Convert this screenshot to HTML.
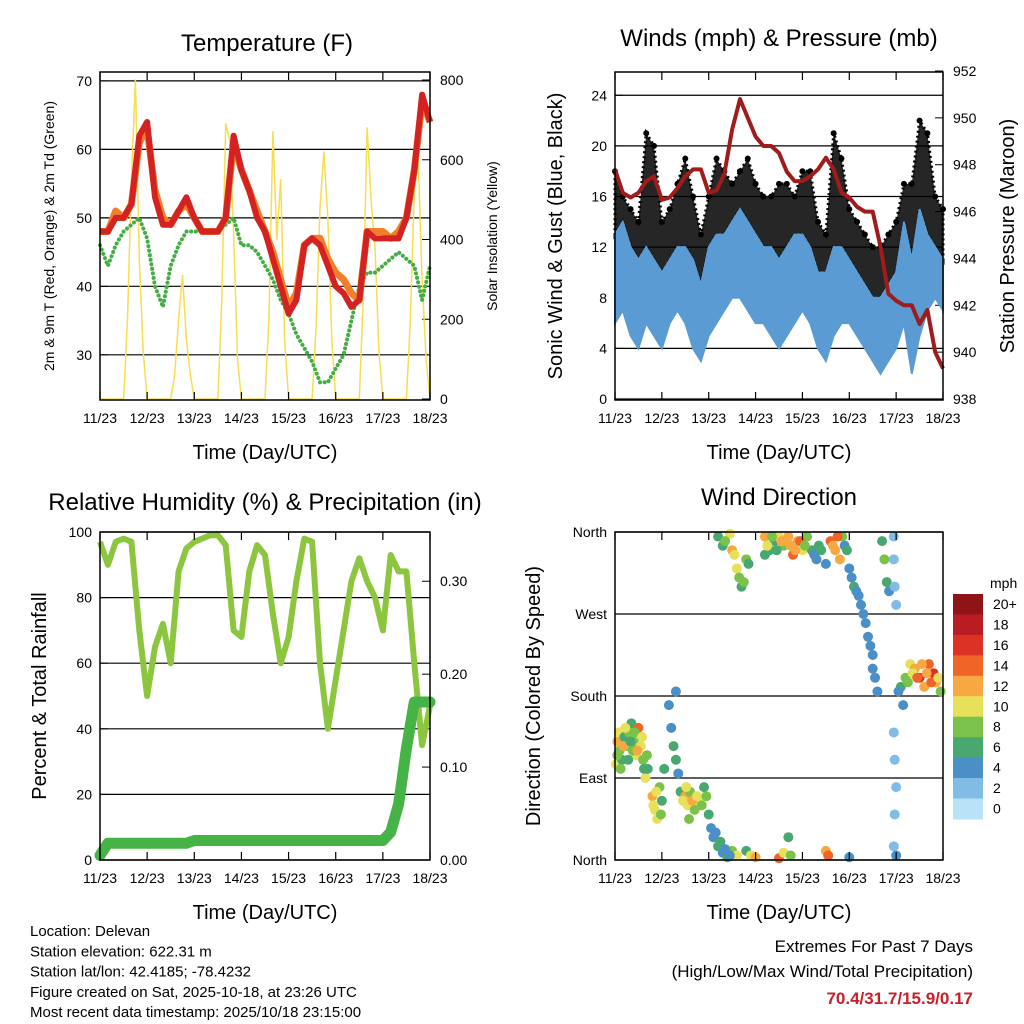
<!DOCTYPE html>
<html><head><meta charset="utf-8"><style>
html,body{margin:0;padding:0;background:#fff;}
svg{display:block;font-family:"Liberation Sans",sans-serif;}
</style></head><body>
<svg id="c" width="1024" height="1024" viewBox="0 0 1024 1024">
<g id="g"></g>
</svg>
<script>
// ---- data ----
const dayLabels=["11/23","12/23","13/23","14/23","15/23","16/23","17/23","18/23"];
const temp2m=[48,48,50,50,52,62,64,53,49,49,51,53,50,48,48,48,50,62,57,54,50,48,44,40,36,38,46,47,46,43,40,39,37,38,48,47,47,47,47,50,57,68,64];
const temp9m=[48,48,51,50,52,61,63,54,50,49,51,52,50,48,48,48,50,61,57,54,51,48,45,41,37,39,46,47,47,44,42,41,39,38,48,48,48,47,48,50,57,67,64];
const dewpt=[46,43,46,48,49,50,47,40,37,43,46,48,48,48,48,48,49,50,46,46,45,43,41,38,36,33,31,29,26,26,28,30,35,40,42,42,43,44,45,44,43,38,43];
const solar=[0,0,0,0,0,0,0,200,550,800,350,120,0,0,0,0,0,0,0,60,200,310,150,60,0,0,0,0,0,0,0,250,690,650,420,100,0,0,0,0,0,0,0,200,670,400,550,150,0,0,0,0,0,0,0,180,480,620,450,150,0,0,0,0,0,0,0,250,680,500,380,120,0,0,0,0,0,0,0,200,520,600,300,100,0];
const pressure=[947.8,946.8,946.6,946.8,947.3,947.5,946.5,946.6,947,947.5,947.8,947.8,946.8,946.9,947.6,949.5,950.8,950,949.2,948.8,948.8,948.5,947.7,947.3,947.3,947.5,947.8,948.3,947.8,946.8,946.6,946.2,946,946,944.5,942.5,942.2,942,942,941.2,941.8,940,939.3];
const windLo=[6,7,5,4,6,5,4,6,7,6,4,3,5,6,7,8,8,7,6,6,5,4,5,6,7,6,4,3,5,6,6,5,4,3,2,3,4,6,2,5,7,8,7];
const windHi=[13,14,12,11,12,11,10,11,12,12,11,9,12,13,13,14,15,14,13,12,12,11,12,13,13,12,10,10,12,12,11,10,9,8,8,9,10,14,11,15,13,12,11];
const gustHi=[18,16,15,14,21,20,14,15,17,19,16,13,16,19,18,17,18,19,17,16,16,17,17,16,18,18,14,13,21,19,15,14,13,12,12,13,14,17,17,22,21,16,15];
const rh=[97,90,97,98,97,70,50,65,72,60,88,95,97,98,99,99,96,70,68,88,96,93,75,60,68,85,98,97,60,40,55,70,85,92,85,80,70,93,88,88,60,35,47];
const precip=[0.005,0.018,0.018,0.018,0.018,0.018,0.018,0.018,0.018,0.018,0.018,0.018,0.021,0.021,0.021,0.021,0.021,0.021,0.021,0.021,0.021,0.021,0.021,0.021,0.021,0.021,0.021,0.021,0.021,0.021,0.021,0.021,0.021,0.021,0.021,0.021,0.021,0.03,0.06,0.12,0.17,0.17,0.17];
const dirTimes=[0.02,0.05,0.08,0.1,0.15,0.2,0.25,0.3,0.35,0.4,0.45,0.5,0.55,0.6,0.65,0.7,0.8,0.85,0.9,0.95,1.0,1.05,1.15,1.2,1.25,1.3,1.35,1.4,1.3,1.5,1.55,1.6,1.7,1.8,1.9,2.0,2.05,2.1,2.2,2.3,2.4,2.5,2.6,2.2,2.3,2.45,2.5,2.6,2.7,2.75,2.8,3.2,3.3,3.4,3.5,3.6,3.2,3.65,3.75,3.8,3.9,4.0,4.1,4.2,4.3,4.35,4.5,4.6,4.7,4.8,4.85,4.9,5.05,5.1,5.2,5.3,5.4,5.5,5.55,5.6,5.7,5.75,5.8,5.85,5.95,5.95,5.97,6.0,5.95,5.97,6.0,5.97,5.95,6.0,6.1,6.15,6.2,6.3,6.4,6.5,6.6,6.7,6.8,6.85,6.95,2.8,2.9,3.0,3.5,3.6,3.7,3.75,4.5,4.55,5.0,
0.05,0.12,0.18,0.22,0.28,0.33,0.38,0.42,0.48,0.58,0.62,0.68,0.82,0.88,0.98,1.45,1.52,1.58,1.65,1.75,1.85,1.95,2.15,2.25,2.35,2.45,2.35,2.55,2.65,2.85,3.25,3.35,3.45,3.55,3.7,3.85,3.95,4.05,4.25,4.4,4.65,4.75,4.95,5.0,5.15,5.25,5.35,5.45,5.5,6.05,6.25,6.35,6.45,6.55,6.65,6.75,6.9];
const dirDegs=[105,130,140,120,110,135,125,140,150,130,115,145,125,110,90,100,70,55,45,80,65,100,170,145,125,110,95,75,185,70,60,75,55,65,80,50,35,25,15,8,3,10,5,355,345,358,340,320,300,305,330,355,340,350,355,345,335,350,345,335,350,340,355,340,330,345,325,350,340,330,355,345,310,300,290,270,245,225,200,185,350,330,305,295,355,330,300,280,140,110,80,50,15,5,190,170,200,215,210,200,190,215,205,195,185,10,5,3,2,8,25,5,10,5,3,
115,100,125,145,110,130,120,140,120,135,100,115,60,75,50,65,80,45,65,70,60,70,30,20,12,5,350,335,310,325,345,355,340,350,355,340,350,345,335,340,345,355,340,320,295,280,260,235,210,185,195,205,200,215,205,195,200];
const dirSpeeds=[10,12,11,8,7,6,8,9,7,8,10,14,11,9,10,6,12,10,11,8,7,6,4,5,6,7,4,6,4,12,10,9,8,10,7,6,5,4,6,5,6,9,10,6,7,10,12,10,6,8,9,12,7,6,10,8,6,12,13,14,12,10,8,6,5,7,4,14,13,12,8,5,5,6,4,4,4,4,4,4,7,8,6,4,2,2,3,3,2,2,2,2,3,4,6,4,8,10,12,16,13,14,16,12,8,7,10,12,14,10,6,9,12,14,4,
9,8,12,10,7,6,9,8,13,10,7,8,10,11,9,10,11,9,12,10,9,8,4,6,5,4,8,10,9,7,10,8,7,12,13,12,14,9,5,6,13,15,7,4,5,4,4,4,4,5,8,11,14,13,12,15,10];
const speedColors=["#b8e2f8","#80bce6","#4a8fc6","#48a870","#7ac24a","#e6e05a","#f7a843","#f06428","#dc3226","#b91c22","#8e1418"];
const speedLabels=["0","2","4","6","8","10","12","14","16","18","20+"];

// ---- helpers ----
const NS="http://www.w3.org/2000/svg";
const root=document.getElementById('g');
function el(tag,attrs,parent){const e=document.createElementNS(NS,tag);for(const k in attrs)e.setAttribute(k,attrs[k]);(parent||root).appendChild(e);return e;}
function txt(s,x,y,size,anchor,extra){const t=el('text',Object.assign({x:x,y:y,'font-size':size,'text-anchor':anchor||'middle',fill:'#000'},extra||{}));t.textContent=s;return t;}
function lin(d0,d1,r0,r1){return v=>r0+(v-d0)/(d1-d0)*(r1-r0);}

function panel(name,x0,x1,y0,y1){
  const p={x0,x1,y0,y1,t:lin(0,7,x0,x1)};
  p.name=name;return p;
}
function frame(p){
  const r=el('rect',{x:p.x0,y:p.y0,width:p.x1-p.x0,height:p.y1-p.y0,fill:'none',stroke:'#000','stroke-width':1.5});
  
  
  for(let i=0;i<dayLabels.length;i++){
    const x=p.t(i);
    el('line',{x1:x,x2:x,y1:p.y1,y2:p.y1-8,stroke:'#000','stroke-width':1.2});
    el('line',{x1:x,x2:x,y1:p.y0,y2:p.y0+8,stroke:'#000','stroke-width':1.2});
    const t=txt(dayLabels[i],x,p.y1+23,14);
    
    
  }
  const xt=txt('Time (Day/UTC)',(p.x0+p.x1)/2,p.y1+59,20);
  
  
}
function yTicks(p,vals,labels,sc,side,grid){
  vals.forEach((v,i)=>{
    const y=sc(v);
    if(grid) el('line',{x1:p.x0,x2:p.x1,y1:y,y2:y,stroke:'#000','stroke-width':1.2});
    if(side==='L'){el('line',{x1:p.x0,x2:p.x0+8,y1:y,y2:y,stroke:'#000'});
      const t=txt(labels[i],p.x0-8,y+5,14,'end');}
    else {el('line',{x1:p.x1,x2:p.x1-8,y1:y,y2:y,stroke:'#000'});
      const t=txt(labels[i],p.x1+10,y+5,14,'start');}
  });
}
function ylabel(s,x,y,size,name){const t=txt(s,x,y,size,'middle',{transform:`rotate(-90 ${x} ${y})`});}
function series(arr,step){return arr.map((v,i)=>[i*step,v]);}
function pathOf(p,pts,sc){return pts.map((q,i)=>(i?'L':'M')+p.t(q[0]).toFixed(1)+','+sc(q[1]).toFixed(1)).join('');}

// ---- Panel 1: temperature ----
const p1=panel('temperature-panel',100,430,72,400);
const tY=lin(23.4,71.3,400,72), sY=lin(0,800,399,80);
let t=txt('Temperature (F)',267,51,24);
yTicks(p1,[30,40,50,60,70],["30","40","50","60","70"],tY,'L',true);
yTicks(p1,[0,200,400,600,800],["0","200","400","600","800"],sY,'R',false);
let e=el('path',{d:pathOf(p1,series(solar,1/12),sY),fill:'none',stroke:'#f7dd50','stroke-width':1.5,'stroke-linejoin':'round'});

e=el('path',{d:pathOf(p1,series(dewpt,1/6),tY),fill:'none',stroke:'#44ad44','stroke-width':4,'stroke-dasharray':'0.1 4.5','stroke-linecap':'round'});

e=el('path',{d:pathOf(p1,series(temp9m,1/6),tY),fill:'none',stroke:'#f07e2a','stroke-width':7,'stroke-linejoin':'round'});

e=el('path',{d:pathOf(p1,series(temp2m,1/6),tY),fill:'none',stroke:'#d42222','stroke-width':6,'stroke-linejoin':'round'});

frame(p1);
ylabel('2m & 9m T (Red, Orange) & 2m Td (Green)',54,236,14,'temperature-y-axis-title');
ylabel('Solar Insolation (Yellow)',497,236,14,'solar-y-axis-title');

// ---- Panel 2: winds ----
const p2=panel('winds-panel',615,943,72,400);
const wY=lin(0,25.84,399,72), pY=lin(938,952,399,71);
t=txt('Winds (mph) & Pressure (mb)',779,46,24);
yTicks(p2,[0,4,8,12,16,20,24],["0","4","8","12","16","20","24"],wY,'L',true);
yTicks(p2,[938,940,942,944,946,948,950,952],["938","940","942","944","946","948","950","952"],pY,'R',false);
function band(lo,hi,sc,p){const a=series(hi,1/6),b=series(lo,1/6).reverse();return pathOf(p,a.concat(b),sc)+'Z';}
e=el('path',{d:band(windHi,gustHi,wY,p2),fill:'#000','fill-opacity':0.85,'stroke':'#000','stroke-width':3,'stroke-dasharray':'2 3'});

gustHi.forEach((v,i)=>{const c=el('circle',{cx:p2.t(i/6),cy:wY(v),r:3,fill:'#000'});
  
  });
e=el('path',{d:band(windLo,windHi,wY,p2),fill:'#5a9bd4',stroke:'#5a9bd4','stroke-width':2});

e=el('path',{d:pathOf(p2,series(pressure,1/6),pY),fill:'none',stroke:'#a01c1c','stroke-width':4,'stroke-linejoin':'round'});

frame(p2);
ylabel('Sonic Wind & Gust (Blue, Black)',562,236,20,'wind-y-axis-title');
ylabel('Station Pressure (Maroon)',1014,236,20,'pressure-y-axis-title');

// ---- Panel 3: RH & precip ----
const p3=panel('humidity-panel',100,430,532,860);
const rY=lin(0,100,860,532), qY=lin(0,0.353,860,532);
t=txt('Relative Humidity (%) & Precipitation (in)',265,510,24);
yTicks(p3,[0,20,40,60,80,100],["0","20","40","60","80","100"],rY,'L',true);
yTicks(p3,[0,0.1,0.2,0.3],["0.00","0.10","0.20","0.30"],qY,'R',false);
e=el('path',{d:pathOf(p3,series(rh,1/6),rY),fill:'none',stroke:'#8cc63f','stroke-width':6,'stroke-linejoin':'round'});

e=el('path',{d:pathOf(p3,series(precip,1/6),qY),fill:'none',stroke:'#46b346','stroke-width':11,'stroke-linejoin':'round','stroke-linecap':'round'});

frame(p3);
ylabel('Percent & Total Rainfall',46,696,20,'humidity-y-axis-title');

// ---- Panel 4: wind direction ----
const p4=panel('wind-direction-panel',615,943,532,860);
const dY=lin(0,360,860,532);
t=txt('Wind Direction',779,505,24);
yTicks(p4,[0,90,180,270,360],["North","East","South","West","North"],dY,'L',true);
dirTimes.forEach((tt,i)=>{
  const bin=Math.min(10,Math.floor(dirSpeeds[i]/2));
  const c=el('circle',{cx:p4.t(tt),cy:dY(dirDegs[i]),r:5,fill:speedColors[bin]});
  
  
});
frame(p4);
ylabel('Direction (Colored By Speed)',540,696,20,'direction-y-axis-title');
t=txt('mph',990,588,14,'start');
const cbTop=594,cbH=20.45;
speedColors.slice().reverse().forEach((col,i)=>{
  const r=el('rect',{x:953,y:cbTop+i*cbH,width:30,height:cbH+0.5,fill:col});
  
  
  const lt=txt(speedLabels[10-i],993,cbTop+i*cbH+15,14,'start');
  
  
});

// ---- footer ----
const foot=["Location: Delevan","Station elevation: 622.31 m","Station lat/lon: 42.4185; -78.4232","Figure created on Sat, 2025-10-18, at 23:26 UTC","Most recent data timestamp: 2025/10/18 23:15:00"];
foot.forEach((s,i)=>{const f=txt(s,30,936+i*20.3,15,'start');});
t=txt('Extremes For Past 7 Days',973,952,17,'end');
t=txt('(High/Low/Max Wind/Total Precipitation)',973,977,17,'end');
t=txt('70.4/31.7/15.9/0.17',973,1004,17,'end',{fill:'#c8202a','font-weight':'bold'});
</script>
</body></html>
